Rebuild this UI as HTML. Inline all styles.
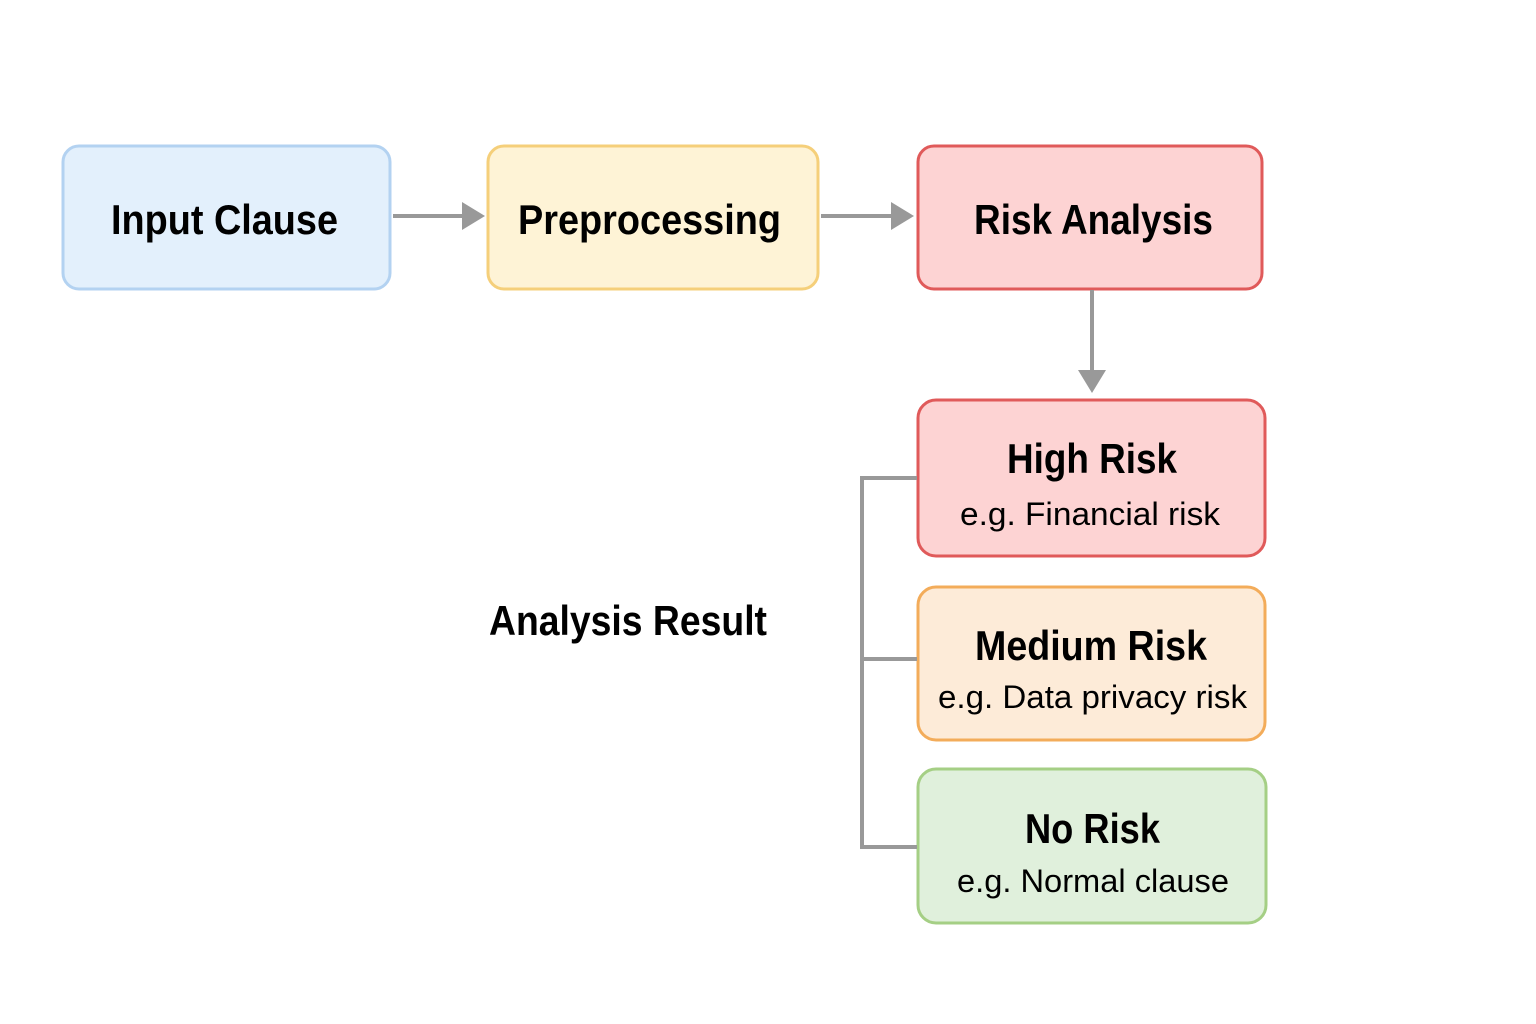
<!DOCTYPE html>
<html><head><meta charset="utf-8"><style>html,body{margin:0;padding:0;background:#fff}svg{display:block}</style></head>
<body>
<svg width="1536" height="1024" viewBox="0 0 1536 1024" xmlns="http://www.w3.org/2000/svg">
<rect width="1536" height="1024" fill="#fff"/>
<g stroke-width="3">
<rect x="63" y="146" width="327" height="143" rx="16" fill="#e3f0fc" stroke="#b3d2f1"/>
<rect x="488" y="146" width="330" height="143" rx="16" fill="#fef3d6" stroke="#f5cf7a"/>
<rect x="918" y="146" width="344" height="143" rx="16" fill="#fdd3d3" stroke="#e05a5a"/>
<rect x="918" y="400" width="347" height="156" rx="18" fill="#fdd3d3" stroke="#e05a5a"/>
<rect x="918" y="587" width="347" height="153" rx="18" fill="#fdebd8" stroke="#f3ac5a"/>
<rect x="918" y="769" width="348" height="154" rx="18" fill="#e0f0dc" stroke="#a5cf85"/>
</g>
<g stroke="#999" stroke-width="4" fill="none">
<line x1="393" y1="216" x2="464" y2="216"/>
<line x1="821" y1="216" x2="893" y2="216"/>
<line x1="1092" y1="290" x2="1092" y2="372"/>
<polyline points="917,478 862,478 862,847 917,847"/>
<line x1="862" y1="659" x2="917" y2="659"/>
</g>
<g fill="#999">
<polygon points="462,202 485,216 462,230"/>
<polygon points="891,202 914,216 891,230"/>
<polygon points="1078,370 1106,370 1092,393"/>
</g>
<g font-family="Liberation Sans, sans-serif" fill="#000">
<g font-weight="bold" font-size="42">
<text x="111" y="234" textLength="227" lengthAdjust="spacingAndGlyphs">Input Clause</text>
<text x="518" y="234" textLength="263" lengthAdjust="spacingAndGlyphs">Preprocessing</text>
<text x="974" y="234" textLength="239" lengthAdjust="spacingAndGlyphs">Risk Analysis</text>
<text x="1007" y="473" textLength="170" lengthAdjust="spacingAndGlyphs">High Risk</text>
<text x="975" y="660" textLength="232" lengthAdjust="spacingAndGlyphs">Medium Risk</text>
<text x="1025" y="843" textLength="135" lengthAdjust="spacingAndGlyphs">No Risk</text>
<text x="489" y="635" textLength="278" lengthAdjust="spacingAndGlyphs">Analysis Result</text>
</g>
<g font-size="32">
<text x="960" y="525" textLength="260" lengthAdjust="spacingAndGlyphs">e.g. Financial risk</text>
<text x="938" y="708" textLength="309" lengthAdjust="spacingAndGlyphs">e.g. Data privacy risk</text>
<text x="957" y="892" textLength="272" lengthAdjust="spacingAndGlyphs">e.g. Normal clause</text>
</g>
</g>
</svg>
</body></html>
